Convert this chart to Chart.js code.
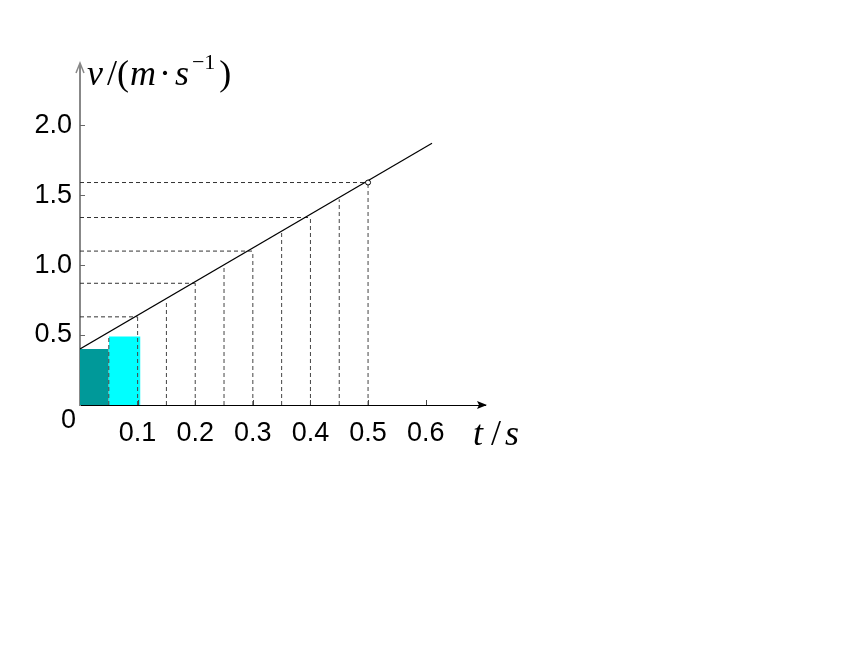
<!DOCTYPE html>
<html lang="en">
<head>
    <meta charset="UTF-8">
    <title>v-t graph</title>
    <script src="https://cdn.jsdelivr.net/npm/chart.js@4.4.1/dist/chart.umd.min.js"></script>
    <style>
        html, body { margin: 0; padding: 0; background: #fff; }
        #chart { display: block; }
    </style>
</head>
<body>
    <canvas id="chart" width="860" height="645"></canvas>
    <script>
        // values
        const xTicks = [0.1, 0.2, 0.3, 0.4, 0.5, 0.6];
        const yTicks = [0.5, 1.0, 1.5, 2.0];

        // the straight v-t line
        const lineT = [0, 0.611];
        const lineV = [0.4, 1.87];

        // dashed verticals (each strip edge up to the line)
        const stripT = [0.05, 0.1, 0.15, 0.2, 0.25, 0.3, 0.35, 0.4, 0.45, 0.5];
        const stripV = [0.49, 0.63, 0.75, 0.87, 1.0, 1.1, 1.23, 1.34, 1.47, 1.59];

        // dashed horizontals (from the v axis across to the line)
        const levelT = [0.1, 0.2, 0.3, 0.4, 0.5];
        const levelV = [0.63, 0.87, 1.1, 1.34, 1.59];

        // the two coloured strips
        const barFrom = [0, 0.05];
        const barTo = [0.05, 0.105];
        const barV = [0.4, 0.49];
        const barColors = ["#009999", "#00ffff"];

        const datasets = [];

        datasets.push({
            data: [{ x: 0.5, y: 1.59 }],
            showLine: false,
            pointRadius: 2.5,
            pointBackgroundColor: "#fff",
            pointBorderColor: "#000",
            pointBorderWidth: 1
        });

        datasets.push({
            data: lineT.map((t, i) => ({ x: t, y: lineV[i] })),
            borderColor: "#000",
            borderWidth: 1.2,
            pointRadius: 0
        });

        stripT.forEach((t, i) => {
            datasets.push({
                data: [{ x: t, y: 0 }, { x: t, y: stripV[i] }],
                borderColor: "#444",
                borderWidth: 1,
                borderDash: [4, 3],
                pointRadius: 0
            });
        });

        levelT.forEach((t, i) => {
            datasets.push({
                data: [{ x: 0, y: levelV[i] }, { x: t, y: levelV[i] }],
                borderColor: "#333",
                borderWidth: 1,
                borderDash: [4, 3],
                pointRadius: 0
            });
        });

        barFrom.forEach((t, i) => {
            datasets.push({
                data: [{ x: t, y: barV[i] }, { x: barTo[i], y: barV[i] }],
                borderWidth: 0,
                borderColor: barColors[i],
                backgroundColor: barColors[i],
                fill: "origin",
                pointRadius: 0
            });
        });

        // arrows, little tick marks and the axis names
        const axesDecor = {
            id: "axesDecor",
            afterDraw(chart) {
                const ctx = chart.ctx;
                const xs = chart.scales.x, ys = chart.scales.y;
                const a = chart.chartArea;
                ctx.save();

                // y arrow
                ctx.strokeStyle = "#888";
                ctx.lineWidth = 1.5;
                ctx.beginPath();
                ctx.moveTo(a.left - 4, a.top + 8);
                ctx.lineTo(a.left, a.top - 2);
                ctx.lineTo(a.left + 4, a.top + 8);
                ctx.stroke();

                // x arrow
                ctx.fillStyle = "#000";
                ctx.beginPath();
                ctx.moveTo(a.right + 2, a.bottom);
                ctx.lineTo(a.right - 8, a.bottom - 4);
                ctx.lineTo(a.right - 6, a.bottom);
                ctx.lineTo(a.right - 8, a.bottom + 4);
                ctx.closePath();
                ctx.fill();

                // tick marks
                ctx.lineWidth = 1;
                ctx.strokeStyle = "#444";
                xTicks.forEach(v => {
                    const px = Math.round(xs.getPixelForValue(v)) + 0.5;
                    ctx.beginPath();
                    ctx.moveTo(px, a.bottom);
                    ctx.lineTo(px, a.bottom - 5);
                    ctx.stroke();
                });
                ctx.strokeStyle = "#666";
                yTicks.forEach(v => {
                    const py = Math.round(ys.getPixelForValue(v)) + 0.5;
                    ctx.beginPath();
                    ctx.moveTo(a.left, py);
                    ctx.lineTo(a.left + 5, py);
                    ctx.stroke();
                });

                // origin label
                ctx.fillStyle = "#000";
                ctx.font = "27px 'Liberation Sans', Arial, sans-serif";
                ctx.textAlign = "right";
                ctx.textBaseline = "middle";
                ctx.fillText("0", a.left - 4, a.bottom + 16);

                // v /(m · s^-1)
                ctx.textAlign = "left";
                ctx.textBaseline = "alphabetic";
                let x = a.left + 7;
                const base = a.top + 20;
                const part = (txt, font, dy, gap) => {
                    ctx.font = font;
                    ctx.fillText(txt, x, base + (dy || 0));
                    x += ctx.measureText(txt).width + (gap || 0);
                };
                const it = "italic 36px 'Liberation Serif', 'Times New Roman', serif";
                const up = "36px 'Liberation Serif', 'Times New Roman', serif";
                part("v", it, 0, 4);
                part("/(", up, 0, 1);
                part("m", it, 0, 3);
                part("\u00b7", up, 0, 4);
                part("s", it, 0, 3);
                part("\u22121", "22px 'Liberation Serif', serif", -16, 4);
                part(")", up);

                // t / s
                x = a.right - 12;
                const base2 = a.bottom + 40;
                ctx.font = it;
                ctx.fillText("t", x, base2);
                x += ctx.measureText("t").width + 8;
                ctx.font = up;
                ctx.fillText("/", x, base2);
                x += ctx.measureText("/").width + 4;
                ctx.font = it;
                ctx.fillText("s", x, base2);

                ctx.restore();
            }
        };

        const tickFont = { family: "'Liberation Sans', Arial, sans-serif", size: 27 };

        new Chart(document.getElementById("chart").getContext("2d"), {
            type: "line",
            data: { datasets: datasets },
            plugins: [axesDecor],
            options: {
                responsive: false,
                animation: false,
                layout: { padding: { left: 0, top: 65, right: 375, bottom: 180 } },
                plugins: { legend: { display: false }, tooltip: { enabled: false } },
                elements: { line: { tension: 0 } },
                scales: {
                    x: {
                        type: "linear",
                        min: 0,
                        max: 0.703,
                        grid: { display: false, drawTicks: false },
                        border: { display: true, color: "#000", width: 1 },
                        afterFit: s => { s.height = 60; },
                        afterBuildTicks: s => { s.ticks = xTicks.map(v => ({ value: v })); },
                        ticks: {
                            color: "#000",
                            font: tickFont,
                            padding: 12,
                            maxRotation: 0,
                            autoSkip: false,
                            callback: v => v.toFixed(1)
                        }
                    },
                    y: {
                        type: "linear",
                        min: 0,
                        max: 2.43,
                        grid: { display: false, drawTicks: false },
                        border: { display: true, color: "#888", width: 2 },
                        afterFit: s => { s.width = 80; },
                        afterBuildTicks: s => { s.ticks = yTicks.map(v => ({ value: v })); },
                        ticks: {
                            color: "#000",
                            font: tickFont,
                            padding: 8,
                            autoSkip: false,
                            callback: v => v.toFixed(1)
                        }
                    }
                }
            }
        });
    </script>
</body>
</html>
